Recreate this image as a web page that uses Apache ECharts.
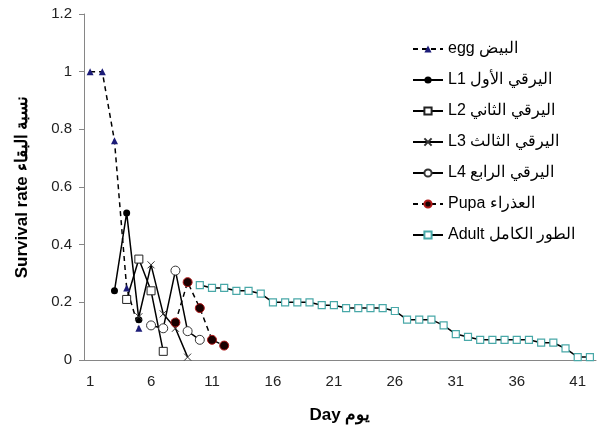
<!DOCTYPE html>
<html>
<head>
<meta charset="utf-8">
<script src="https://cdn.jsdelivr.net/npm/echarts@6/dist/echarts.min.js"></script>
<style>
  html, body { margin: 0; padding: 0; background: #fff; }
  #chart { width: 600px; height: 435px; }
</style>
</head>
<body>
<div id="chart"></div>
<script>
const days = [];
for (let d = 1; d <= 42; d++) days.push(String(d));

// each stage: first day + survival values
const eggStart = 1,   egg   = [1, 1, 0.76, 0.25, 0.11];
const l1Start = 3,    l1    = [0.24, 0.51, 0.14];
const l2Start = 4,    l2    = [0.21, 0.35, 0.24, 0.03];
const l3Start = 5,    l3    = [0.15, 0.33, 0.16, 0.11, 0.01];
const l4Start = 6,    l4    = [0.12, 0.11, 0.31, 0.10, 0.07];
const pupaStart = 8,  pupa  = [0.13, 0.27, 0.18, 0.07, 0.05];
const adultStart = 10;
const adult = [0.26, 0.25, 0.25, 0.24, 0.24, 0.23, 0.20, 0.20, 0.20, 0.20,
               0.19, 0.19, 0.18, 0.18, 0.18, 0.18, 0.17, 0.14, 0.14, 0.14,
               0.12, 0.09, 0.08, 0.07, 0.07, 0.07, 0.07, 0.07, 0.06, 0.06,
               0.04, 0.01, 0.01];

function pad(start, vals) {
    const out = days.map(() => null);
    vals.forEach((v, i) => { out[start - 1 + i] = v; });
    return out;
}

const font = '"Liberation Sans", Arial, sans-serif';

function stage(name, start, vals, dashed, symbol, size, itemStyle) {
    return {
        name: name,
        type: 'line',
        data: pad(start, vals),
        symbol: symbol,
        symbolSize: size,
        showAllSymbol: true,
        connectNulls: false,
        lineStyle: { color: '#000', width: 1.5, type: dashed ? [5, 4] : 'solid' },
        itemStyle: itemStyle,
        emphasis: { disabled: true },
        z: 3
    };
}

const chart = echarts.init(document.getElementById('chart'));
chart.setOption({
    animation: false,
    grid: { left: 84, right: 4, top: 14, bottom: 75 },
    legend: {
        orient: 'vertical',
        left: 407,
        top: 36,
        itemWidth: 30,
        itemHeight: 9,
        itemGap: 15,
        textStyle: { fontFamily: font, fontSize: 16, color: '#000' }
    },
    xAxis: {
        type: 'category',
        data: days,
        boundaryGap: true,
        name: 'Day يوم',
        nameLocation: 'middle',
        nameGap: 47,
        nameTextStyle: { fontFamily: font, fontSize: 17, fontWeight: 'bold', color: '#000' },
        axisLine: { lineStyle: { color: '#868686', width: 1 } },
        axisTick: { interval: 0, length: 5, lineStyle: { color: '#868686' } },
        axisLabel: { interval: 4, margin: 14, fontFamily: font, fontSize: 15, color: '#222' }
    },
    yAxis: {
        type: 'value',
        min: 0,
        max: 1.2,
        interval: 0.2,
        name: 'Survival rate نسبة البقاء',
        nameLocation: 'middle',
        nameGap: 53,
        nameTextStyle: { fontFamily: font, fontSize: 17, fontWeight: 'bold', color: '#000' },
        axisLine: { show: true, lineStyle: { color: '#868686', width: 1 } },
        axisTick: { show: true, length: 5, lineStyle: { color: '#868686' } },
        splitLine: { show: false },
        axisLabel: { margin: 12, fontFamily: font, fontSize: 15, color: '#222' }
    },
    series: [
        stage('egg البيض', eggStart, egg, true, 'triangle', 7,
              { color: '#1c1c78' }),
        stage('L1 اليرقي الأول', l1Start, l1, false, 'circle', 7,
              { color: '#000' }),
        stage('L2 اليرقي الثاني', l2Start, l2, false, 'rect', 8,
              { color: '#fff', borderColor: '#222', borderWidth: 1 }),
        stage('L3 اليرقي الثالث', l3Start, l3, false,
              'path://M0,0L10,10M10,0L0,10', 7,
              { color: 'none', borderColor: '#333', borderWidth: 1 }),
        stage('L4 اليرقي الرابع', l4Start, l4, false, 'circle', 9,
              { color: '#fff', borderColor: '#333', borderWidth: 1 }),
        stage('Pupa العذراء', pupaStart, pupa, true, 'circle', 9,
              { color: '#1a0000', borderColor: '#b01818', borderWidth: 1 }),
        stage('Adult الطور الكامل', adultStart, adult, false, 'rect', 7,
              { color: '#fff', borderColor: '#48a8a8', borderWidth: 1.2 })
    ]
});
</script>
</body>
</html>
